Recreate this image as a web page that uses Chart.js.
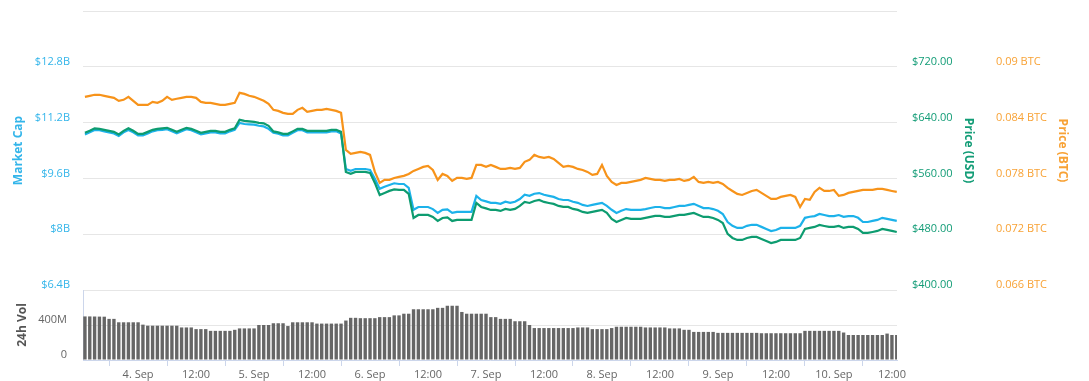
<!DOCTYPE html>
<html><head><meta charset="utf-8">
<script src="https://cdn.jsdelivr.net/npm/chart.js@4.4.0/dist/chart.umd.min.js"></script>
<style>
html,body{margin:0;padding:0;background:#fff;width:1089px;height:381px;overflow:hidden;}
#main{position:absolute;left:0;top:0;}
#vol{position:absolute;left:0;top:280px;}
</style></head><body>
<canvas id="main" width="1089" height="300"></canvas>
<canvas id="vol" width="1089" height="101"></canvas>
<script>
// hours relative to 4 Sep 00:00; first sample 3 Sep 13:00, hourly
const startHour = -11;
const xMin = -11.4, xMax = 157.05;

const marketCapB = [
10.86,10.92,10.99,10.98,10.95,10.92,10.89,10.82,10.92,10.99,10.92,10.83,10.83,10.89,10.95,10.98,
10.99,11.01,10.95,10.89,10.95,11.01,10.98,10.92,10.86,10.89,10.92,10.92,10.89,10.89,10.95,10.99,
11.19,11.16,11.15,11.14,11.11,11.09,11.02,
10.91,10.88,10.83,10.83,10.91,10.98,10.98,10.92,10.92,10.92,10.92,10.92,10.95,10.95,10.89,
9.87,9.82,9.87,9.87,9.87,9.84,
9.59,
9.30,9.36,9.41,9.46,9.44,9.44,9.33,
8.70,8.78,8.78,8.78,8.72,8.61,8.70,8.71,8.61,8.64,8.64,8.64,8.64,
9.10,8.98,8.94,8.90,8.90,8.87,8.93,8.90,8.93,9.01,9.13,9.10,9.16,9.18,9.13,9.10,9.07,9.01,8.98,8.98,8.93,8.90,8.84,8.81,8.84,8.87,8.90,8.81,
8.70,8.61,8.67,8.72,8.70,8.70,8.70,8.72,8.75,8.78,8.78,8.75,8.75,8.78,8.81,8.81,8.84,8.87,8.81,8.75,8.75,8.72,8.67,8.58,
8.35,8.24,8.18,8.18,8.24,8.27,8.27,8.21,8.15,8.09,8.12,8.18,8.18,8.18,8.18,8.24,
8.47,8.50,8.52,8.58,8.55,8.52,8.52,8.55,8.50,8.52,8.52,8.47,8.35,8.35,8.38,8.41,8.47,8.44,8.41,8.38
];

const priceUSD = [
625.3,628.2,631.8,631.0,629.6,628.2,626.7,623.1,628.2,631.8,628.2,623.9,623.9,626.7,629.6,631.0,
631.8,632.5,629.6,626.7,629.6,632.5,631.0,628.2,625.3,626.7,628.2,628.2,626.7,626.7,629.6,631.8,
644.0,642.5,641.8,641.1,639.6,638.9,635.3,
627.4,626.0,623.9,623.9,627.4,631.0,631.0,628.2,628.2,628.2,628.2,628.2,629.6,629.6,626.7,
569.3,566.5,569.3,569.3,569.3,567.9,
553.5,
536.3,539.2,542.1,544.2,543.5,543.5,537.8,
503.3,507.6,507.6,507.6,504.8,499.0,503.3,504.0,499.0,500.5,500.5,500.5,500.5,
524.8,519.1,517.0,514.8,514.8,513.4,516.2,514.8,516.2,520.5,526.3,524.8,527.7,529.2,526.3,524.8,523.4,520.5,519.1,519.1,516.2,514.8,511.9,510.5,511.9,513.4,514.8,510.5,
501.9,497.6,500.5,503.3,501.9,501.9,501.9,503.3,504.8,506.2,506.2,504.8,504.8,506.2,507.6,507.6,509.1,510.5,507.6,504.8,504.8,503.3,500.5,496.1,
480.4,474.6,471.8,471.8,474.6,476.1,476.1,473.2,470.3,467.4,468.9,471.8,471.8,471.8,471.8,474.6,
487.5,489.0,490.4,493.3,491.8,490.4,490.4,491.8,489.0,490.4,490.4,487.5,481.8,481.8,483.2,484.7,487.5,486.1,484.7,483.2
];

const priceBTC = [
0.08677,0.08688,0.08699,0.08699,0.08688,0.08677,0.08666,0.08634,0.08645,0.08677,0.08634,0.08591,0.08591,0.08591,0.08623,0.08612,
0.08634,0.08677,0.08645,0.08656,0.08666,0.08677,0.08677,0.08666,0.08623,0.08612,0.08612,0.08602,0.08591,0.08591,0.08602,0.08612,
0.08720,0.08709,0.08688,0.08677,0.08656,0.08634,0.08602,
0.08537,0.08526,0.08505,0.08494,0.08494,0.08537,0.08559,0.08516,0.08526,0.08537,0.08537,0.08548,0.08537,0.08526,0.08505,
0.08107,0.08064,0.08074,0.08085,0.08074,0.08053,
0.07870,
0.07752,0.07784,0.07784,0.07805,0.07816,0.07827,0.07848,
0.07881,0.07902,0.07924,0.07935,0.07891,0.07784,0.07848,0.07827,0.07773,0.07805,0.07805,0.07795,0.07805,
0.07945,0.07945,0.07924,0.07945,0.07924,0.07902,0.07902,0.07913,0.07902,0.07913,0.07978,0.07999,0.08053,0.08031,0.08021,0.08031,0.08010,0.07967,0.07924,0.07935,0.07924,0.07902,0.07891,0.07870,0.07838,0.07848,0.07945,0.07827,
0.07762,0.07730,0.07752,0.07752,0.07762,0.07773,0.07784,0.07805,0.07795,0.07784,0.07784,0.07773,0.07784,0.07784,0.07795,0.07773,0.07784,0.07816,0.07762,0.07752,0.07762,0.07752,0.07762,0.07741,
0.07698,0.07665,0.07633,0.07622,0.07644,0.07665,0.07676,0.07644,0.07612,0.07579,0.07579,0.07601,0.07612,0.07622,0.07601,0.07493,
0.07579,0.07569,0.07655,0.07698,0.07665,0.07665,0.07676,0.07612,0.07622,0.07644,0.07655,0.07665,0.07676,0.07676,0.07676,0.07687,0.07687,0.07676,0.07665,0.07655
];

const volumeM = [
498,498,497,496,495,470,470,431,431,431,431,431,404,
392,392,392,392,392,392,392,372,372,372,353,353,353,333,333,333,333,333,345,
361,361,361,361,400,400,400,420,420,420,388,431,431,431,431,431,
416,416,416,416,416,416,451,482,482,478,478,478,478,490,490,490,510,510,529,529,
580,580,580,580,580,596,596,620,620,620,549,529,529,529,529,529,490,490,470,470,470,
443,443,443,400,365,365,365,365,365,365,365,365,365,372,372,372,353,353,353,353,365,
380,380,380,380,380,380,372,372,372,372,372,361,361,361,345,345,321,321,321,321,321,
310,310,310,310,310,310,310,310,310,306,306,306,306,306,306,306,306,306,
333,333,333,333,333,333,333,333,314,286,286,286,286,286,286,286,286,302,286,286
];

const mcTicks = [6.4, 8, 9.6, 11.2, 12.8, 14.4];
const mcTickLabels = ['$6.4B','$8B','$9.6B','$11.2B','$12.8B',''];
const usdTicks = [400, 480, 560, 640, 720, 800];
const usdTickLabels = ['$400.00','$480.00','$560.00','$640.00','$720.00',''];
const btcTicks = [0.066, 0.072, 0.078, 0.084, 0.09, 0.096];
const btcTickLabels = ['0.066 BTC','0.072 BTC','0.078 BTC','0.084 BTC','0.09 BTC',''];
const volTicks = [0, 400, 800];
const volTickLabels = ['0','400M',''];
const timeTicks = [0,12,24,36,48,60,72,84,96,108,120,132,144,156];
const timeTickLabels = ['4. Sep','12:00','5. Sep','12:00','6. Sep','12:00','7. Sep','12:00','8. Sep','12:00','9. Sep','12:00','10. Sep','12:00'];

const C_MC = '#1cb2ea', C_USD = '#0d9c70', C_BTC = '#f7931a';
const C_MC_T = '#33b5ea', C_USD_T = '#129c76', C_BTC_T = '#f8a235';
const FONT = 'Open Sans';

const pts = arr => arr.map((v, i) => ({x: startHour + i, y: v}));
const setTicks = list => s => { s.ticks = list.map(v => ({value: v})); };
const fixW = w => s => { s.width = w; s.paddingTop = 0; s.paddingBottom = 0; };

new Chart(document.getElementById('main'), {
  type: 'line',
  data: { datasets: [
    {label:'Price (BTC)', data: pts(priceBTC), yAxisID:'yBTC', borderColor:C_BTC, borderWidth:2.2, pointRadius:0, tension:0},
    {label:'Price (USD)', data: pts(priceUSD), yAxisID:'yUSD', borderColor:C_USD, borderWidth:2.2, pointRadius:0, tension:0},
    {label:'Market Cap', data: pts(marketCapB), yAxisID:'yMC', borderColor:C_MC, borderWidth:2.2, pointRadius:0, tension:0}
  ]},
  options: {
    responsive:false, animation:false, devicePixelRatio:1,
    layout:{padding:{top:11, bottom:10, left:0, right:0}},
    plugins:{legend:{display:false}, tooltip:{enabled:false}},
    scales:{
      x:{type:'linear', min:xMin, max:xMax, display:false},
      yMC:{position:'left', min:6.4, max:14.4,
        afterBuildTicks:setTicks(mcTicks), afterFit:fixW(83),
        grid:{color:'#e6e6e6', drawTicks:false}, border:{display:false},
        ticks:{padding:13, labelOffset:-5, color:C_MC_T, font:{family:FONT,size:11}, autoSkip:false, callback:(v,i)=>mcTickLabels[i]},
        title:{display:true, text:'Market Cap', color:C_MC_T, font:{family:FONT,size:12,weight:'bold'}, padding:{top:11,bottom:0}}},
      yUSD:{position:'right', min:400, max:800,
        afterBuildTicks:setTicks(usdTicks), afterFit:fixW(84),
        grid:{drawOnChartArea:false, drawTicks:false}, border:{display:false},
        ticks:{padding:15, labelOffset:-5, color:C_USD_T, font:{family:FONT,size:11}, autoSkip:false, callback:(v,i)=>usdTickLabels[i]},
        title:{display:true, text:'Price (USD)', color:C_USD_T, font:{family:FONT,size:12,weight:'bold'}, padding:{top:5,bottom:0}}},
      yBTC:{position:'right', min:0.066, max:0.096,
        afterBuildTicks:setTicks(btcTicks), afterFit:fixW(108),
        grid:{drawOnChartArea:false, drawTicks:false}, border:{display:false},
        ticks:{padding:15, labelOffset:-5, color:C_BTC_T, font:{family:FONT,size:11}, autoSkip:false, callback:(v,i)=>btcTickLabels[i]},
        title:{display:true, text:'Price (BTC)', color:C_BTC_T, font:{family:FONT,size:12,weight:'bold'}, padding:{top:19,bottom:0}}}
    }
  }
});

new Chart(document.getElementById('vol'), {
  type: 'bar',
  data: { datasets: [
    {label:'24h Vol', data: pts(volumeM), backgroundColor:'#666666', borderWidth:0, barPercentage:0.7, categoryPercentage:1}
  ]},
  options: {
    responsive:false, animation:false, devicePixelRatio:1,
    layout:{padding:{top:10, bottom:0, left:0, right:192}},
    plugins:{legend:{display:false}, tooltip:{enabled:false}},
    scales:{
      x:{type:'linear', min:xMin, max:xMax, offset:false,
        afterBuildTicks:setTicks(timeTicks), afterFit:s=>{s.height=21; s.paddingLeft=0; s.paddingRight=0;},
        grid:{drawOnChartArea:false, drawTicks:true, tickLength:6, color:'#ccd6eb'},
        border:{display:true, color:'#ccd6eb'},
        ticks:{padding:2, color:'#666', font:{family:FONT,size:11}, autoSkip:false, maxRotation:0, callback:(v,i)=>timeTickLabels[i]}},
      y:{position:'left', min:0, max:800,
        afterBuildTicks:setTicks(volTicks), afterFit:fixW(83),
        grid:{color:c=> (c.tick && c.tick.value===0) ? 'rgba(0,0,0,0)' : '#e6e6e6', drawTicks:false},
        border:{display:true, color:'#ccd6eb'},
        ticks:{padding:16, labelOffset:-5, color:'#666', font:{family:FONT,size:11}, autoSkip:false, callback:(v,i)=>volTickLabels[i]},
        title:{display:true, text:'24h Vol', color:'#555', font:{family:FONT,size:12,weight:'bold'}, padding:{top:15,bottom:0}}}
    }
  }
});
</script>
</body></html>
